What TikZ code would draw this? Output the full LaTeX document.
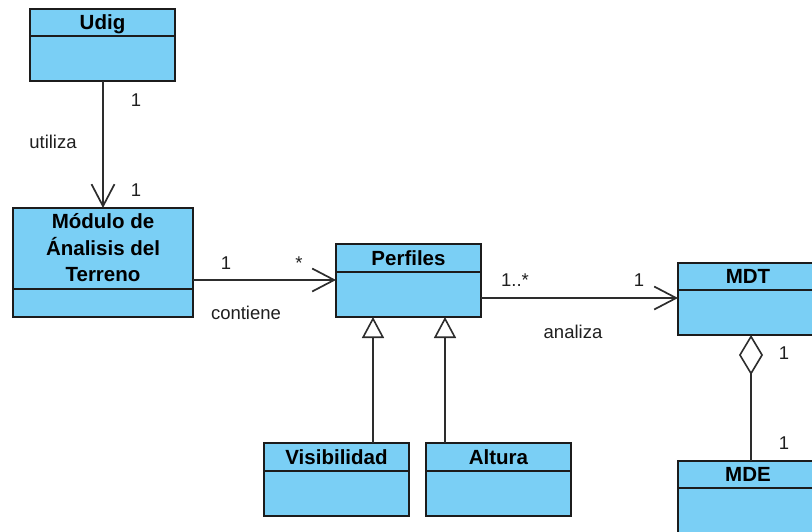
\documentclass[tikz,border=0pt]{standalone}
\usepackage{fontspec}
\setmainfont{Liberation Sans}
\usetikzlibrary{arrows.meta}
\definecolor{classfill}{RGB}{122,207,245}
\definecolor{classline}{RGB}{28,28,28}
\definecolor{linkline}{RGB}{45,45,45}
\tikzset{
  classbox/.style={draw=classline, fill=classfill, line width=1.7pt, rectangle,
    inner sep=0pt, outer sep=0pt},
  classsep/.style={draw=classline, line width=1.6pt},
  classname/.style={font=\fontsize{20.5}{26.5}\selectfont\bfseries, inner sep=0pt,
    text=black},
  lbl/.style={font=\fontsize{18.5}{22}\selectfont, anchor=base, inner sep=0pt,
    text=black!88},
  assoc/.style={draw=linkline, line width=1.6pt},
  navarrow/.style={-{Straight Barb[length=22pt,width=23pt,line width=1.7pt]}},
  genarrow/.style={-{Triangle[open,length=21pt,width=22pt,line width=1.6pt]}},
  aggstart/.style={{Diamond[open,length=40pt,width=24pt,line width=1.6pt]}-},
}
% class box: name, left, top, right, bottom, separator y, title
\newcommand\umlclass[7]{%
  \node[classbox, minimum width={(#4-#2)*1pt}, minimum height={(#5-#3)*1pt}]
    (#1) at ({(#2+#4)/2},{(#3+#5)/2}) {};
  \draw[classsep] (#1.west |- 0,#6) -- (#1.east |- 0,#6);
  \node[classname, anchor=base] (#1-name) at ({(#2+#4)/2},{(#3+#6)/2+7.3}) {#7};
}
\begin{document}
\begin{tikzpicture}[x=1pt, y=-1pt]
  \useasboundingbox (0,0) rectangle (812,531);
  \clip (0,0) rectangle (812,531);

  % classes
  \umlclass{udig}{30}{9}{175}{81}{36}{Udig}
  \umlclass{mod}{13}{208}{193}{317}{289}{}
  \node[classname, align=center, anchor=center] (mod-title) at (103,248)
    {Módulo de\\Ánalisis del\\Terreno};
  \umlclass{perf}{336}{244}{481}{317}{272}{Perfiles}
  \umlclass{mdt}{678}{263}{818}{335}{290}{MDT}
  \umlclass{mde}{678}{461}{818}{545}{488}{MDE}
  \umlclass{vis}{264}{443}{409}{516}{471}{Visibilidad}
  \umlclass{alt}{426}{443}{571}{516}{471}{Altura}

  % associations
  \draw[assoc, navarrow] (udig.south -| 103,0) -- (mod.north -| 103,0);
  \draw[assoc, navarrow] (mod.east |- 0,280) -- (perf.west |- 0,280);
  \draw[assoc, navarrow] (perf.east |- 0,298) -- (mdt.west |- 0,298);
  \draw[assoc, aggstart] (mdt.south -| 751,0) -- (mde.north -| 751,0);

  % generalizations
  \draw[assoc, genarrow] (vis.north -| 373,0) -- (perf.south -| 373,0);
  \draw[assoc, genarrow] (alt.north -| 445,0) -- (perf.south -| 445,0);

  % multiplicities and role names
  \node[lbl] (m-udig)  at (136,106.5) {1};
  \node[lbl] (n-util)  at (53,148) {utiliza};
  \node[lbl] (m-mod1)  at (136,196.5) {1};
  \node[lbl] (m-mod2)  at (226,269.5) {1};
  \node[lbl] (m-perf1) at (299,269.5) {*};
  \node[lbl] (n-cont)  at (246,319) {contiene};
  \node[lbl] (m-perf2) at (515,286.5) {1..*};
  \node[lbl] (m-mdt1)  at (639,286.5) {1};
  \node[lbl] (n-anal)  at (573,338) {analiza};
  \node[lbl] (m-mdt2)  at (784,359.5) {1};
  \node[lbl] (m-mde)   at (784,449.5) {1};
\end{tikzpicture}
\end{document}
